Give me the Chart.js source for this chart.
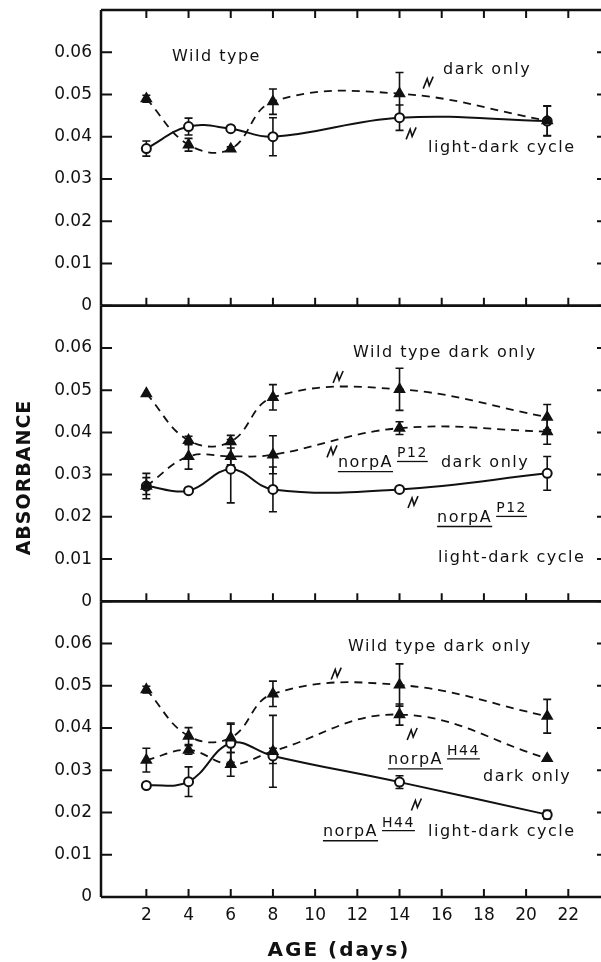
<!DOCTYPE html>
<html>
<head>
<meta charset="UTF-8">
<title>Absorbance vs age</title>
<script src="https://cdn.jsdelivr.net/npm/chart.js@4.4.0/dist/chart.umd.min.js"></script>
<style>
  body { margin: 0; background: #fff; }
</style>
</head>
<body>
<canvas id="absChart" width="601" height="962"></canvas>
<script>
// ages at which absorbance was measured
const days = [2, 4, 6, 8, 14, 21];
const xTicks = [2, 4, 6, 8, 10, 12, 14, 16, 18, 20, 22];
const yTicks = [0, 0.01, 0.02, 0.03, 0.04, 0.05, 0.06];
const yTickLabels = ['0', '0.01', '0.02', '0.03', '0.04', '0.05', '0.06'];

// top panel: wild type
const wtDark1 = [0.0490, 0.0381, 0.0371, 0.0483, 0.0502, 0.0438];
const wtDark1Err = [0.0008, 0.0015, 0.0005, 0.0030, 0.0050, 0.0035];
const wtLight1 = [0.0372, 0.0424, 0.0419, 0.0400, 0.0445, 0.0437];
const wtLight1Err = [0.0018, 0.0020, 0.0005, 0.0045, 0.0030, 0.0035];

// middle panel: norpA P12
const wtDark2 = [0.0492, 0.0381, 0.0378, 0.0483, 0.0502, 0.0436];
const wtDark2Err = [0, 0.0010, 0.0005, 0.0030, 0.0050, 0.0030];
const p12Dark = [0.0273, 0.0343, 0.0343, 0.0347, 0.0410, 0.0402];
const p12DarkErr = [0.0020, 0.0030, 0.0020, 0.0045, 0.0015, 0.0030];
const p12Light = [0.0273, 0.0262, 0.0313, 0.0265, 0.0265, 0.0303];
const p12LightErr = [0.0030, 0, 0.0080, 0.0053, 0, 0.0040];

// bottom panel: norpA H44
const wtDark3 = [0.0491, 0.0381, 0.0377, 0.0481, 0.0502, 0.0428];
const wtDark3Err = [0.0008, 0.0020, 0.0035, 0.0030, 0.0050, 0.0040];
const h44Dark = [0.0324, 0.0348, 0.0314, 0.0345, 0.0432, 0.0328];
const h44DarkErr = [0.0028, 0.0010, 0.0028, 0.0085, 0.0025, 0];
const h44Light = [0.0264, 0.0273, 0.0364, 0.0334, 0.0272, 0.0195];
const h44LightErr = [0, 0.0035, 0.0045, 0.0018, 0.0015, 0.0010];

const FONT = '"DejaVu Sans", sans-serif';

function pts(vals) {
  return days.map((d, i) => ({ x: d, y: vals[i] }));
}

function darkSet(vals, errs, axis) {
  return {
    data: pts(vals), errors: errs, yAxisID: axis,
    borderColor: '#111', borderWidth: 1.8, borderDash: [8, 6],
    pointStyle: 'triangle', pointRadius: 5.5,
    pointBackgroundColor: '#111', pointBorderColor: '#111',
    tension: 0.4, fill: false
  };
}

function lightSet(vals, errs, axis) {
  return {
    data: pts(vals), errors: errs, yAxisID: axis,
    borderColor: '#111', borderWidth: 2,
    pointStyle: 'circle', pointRadius: 4.5, pointBorderWidth: 2,
    pointBackgroundColor: '#fff', pointBorderColor: '#111',
    tension: 0.4, fill: false
  };
}

// text notes on the panels, placed in data units
const notes = [
  { axis: 'y1', x: 3.22, y: 0.0589, parts: [{ t: 'Wild type' }] },
  { axis: 'y1', x: 16.06, y: 0.0558, parts: [{ t: 'dark only' }] },
  { axis: 'y1', x: 15.35, y: 0.0374, parts: [{ t: 'light-dark cycle' }] },
  { axis: 'y2', x: 11.8, y: 0.0589, parts: [{ t: 'Wild type dark only' }] },
  { axis: 'y2', x: 11.08, y: 0.0328, parts: [{ t: 'norpA', u: true }, { t: 'P12', u: true, sup: true }, { t: '  dark only' }] },
  { axis: 'y2', x: 15.78, y: 0.0198, parts: [{ t: 'norpA', u: true }, { t: 'P12', u: true, sup: true }] },
  { axis: 'y2', x: 15.82, y: 0.0103, parts: [{ t: 'light-dark cycle' }] },
  { axis: 'y3', x: 11.56, y: 0.0592, parts: [{ t: 'Wild type dark only' }] },
  { axis: 'y3', x: 13.45, y: 0.0324, parts: [{ t: 'norpA', u: true }, { t: 'H44', u: true, sup: true }] },
  { axis: 'y3', x: 17.96, y: 0.0284, parts: [{ t: 'dark only' }] },
  { axis: 'y3', x: 10.37, y: 0.0154, parts: [{ t: 'norpA', u: true }, { t: 'H44', u: true, sup: true }, { t: '  light-dark cycle' }] }
];

// little zigzag leaders next to the curves
const squiggles = [
  { axis: 'y1', x: 15.36, y: 0.0528 },
  { axis: 'y1', x: 14.55, y: 0.0408 },
  { axis: 'y2', x: 11.09, y: 0.0531 },
  { axis: 'y2', x: 10.8, y: 0.0355 },
  { axis: 'y2', x: 14.64, y: 0.0235 },
  { axis: 'y3', x: 11.0, y: 0.0529 },
  { axis: 'y3', x: 14.6, y: 0.0386 },
  { axis: 'y3', x: 14.8, y: 0.0219 }
];

const panelAxes = ['y1', 'y2', 'y3'];

const decorations = {
  id: 'decorations',
  beforeDatasetsDraw(chart) {
    const ctx = chart.ctx;
    const xs = chart.scales.x;
    ctx.save();
    ctx.strokeStyle = '#111';
    ctx.lineWidth = 1.6;
    chart.data.datasets.forEach(ds => {
      const ys = chart.scales[ds.yAxisID];
      ds.data.forEach((p, i) => {
        const e = ds.errors[i];
        if (!e) return;
        const px = xs.getPixelForValue(p.x);
        const top = ys.getPixelForValue(p.y + e);
        const bot = ys.getPixelForValue(p.y - e);
        ctx.beginPath();
        ctx.moveTo(px, top); ctx.lineTo(px, bot);
        ctx.moveTo(px - 4, top); ctx.lineTo(px + 4, top);
        ctx.moveTo(px - 4, bot); ctx.lineTo(px + 4, bot);
        ctx.stroke();
      });
    });
    ctx.restore();
  },
  afterDraw(chart) {
    const ctx = chart.ctx;
    const xs = chart.scales.x;
    const area = chart.chartArea;
    ctx.save();
    ctx.strokeStyle = '#111';
    ctx.fillStyle = '#111';

    // frames and inward ticks
    panelAxes.forEach((id, k) => {
      const ys = chart.scales[id];
      ctx.lineWidth = 2.5;
      ctx.beginPath();
      ctx.moveTo(area.left, ys.top); ctx.lineTo(area.right, ys.top);
      ctx.moveTo(area.left, ys.bottom); ctx.lineTo(area.right, ys.bottom);
      ctx.moveTo(area.left, ys.top); ctx.lineTo(area.left, ys.bottom);
      ctx.stroke();
      ctx.lineWidth = 2;
      ctx.beginPath();
      yTicks.forEach(v => {
        const py = ys.getPixelForValue(v);
        ctx.moveTo(area.left, py); ctx.lineTo(area.left + 11, py);
        ctx.moveTo(area.right - 4, py); ctx.lineTo(area.right, py);
      });
      xTicks.forEach(v => {
        const px = xs.getPixelForValue(v);
        ctx.moveTo(px, ys.bottom); ctx.lineTo(px, ys.bottom - 8);
        if (k === 0) { ctx.moveTo(px, ys.top); ctx.lineTo(px, ys.top + 8); }
      });
      ctx.stroke();
    });

    // leaders
    ctx.lineWidth = 1.6;
    squiggles.forEach(s => {
      const px = xs.getPixelForValue(s.x);
      const py = chart.scales[s.axis].getPixelForValue(s.y);
      ctx.beginPath();
      ctx.moveTo(px - 5, py + 6);
      ctx.lineTo(px - 1, py - 4);
      ctx.lineTo(px + 1, py + 3);
      ctx.lineTo(px + 5, py - 6);
      ctx.stroke();
    });

    // notes
    ctx.textBaseline = 'middle';
    ctx.textAlign = 'left';
    ctx.letterSpacing = '1.5px';
    notes.forEach(n => {
      let px = xs.getPixelForValue(n.x);
      const py = chart.scales[n.axis].getPixelForValue(n.y);
      n.parts.forEach(part => {
        const size = part.sup ? 14 : 16;
        const dy = part.sup ? -9 : 0;
        ctx.font = size + 'px ' + FONT;
        if (part.sup) px += 4;
        ctx.fillText(part.t, px, py + dy);
        const w = ctx.measureText(part.t).width;
        if (part.u) {
          ctx.lineWidth = 1.3;
          ctx.beginPath();
          ctx.moveTo(px, py + dy + size * 0.55);
          ctx.lineTo(px + w, py + dy + size * 0.55);
          ctx.stroke();
        }
        px += w;
      });
    });

    // axis titles
    ctx.font = 'bold 19px ' + FONT;
    ctx.letterSpacing = '1px';
    ctx.textAlign = 'center';
    const y2 = chart.scales.y2;
    ctx.save();
    ctx.translate(25, (y2.top + y2.bottom) / 2 + 24);
    ctx.rotate(-Math.PI / 2);
    ctx.fillText('ABSORBANCE', 0, 0);
    ctx.restore();
    ctx.font = 'bold 20px ' + FONT;
    ctx.letterSpacing = '2px';
    ctx.fillText('AGE (days)', xs.getPixelForValue(11.13), chart.height - 11);
    ctx.restore();
  }
};

function yScale() {
  return {
    type: 'linear', position: 'left', stack: 'panels', stackWeight: 1,
    min: 0, max: 0.07,
    grid: { display: false, drawTicks: false },
    border: { display: false },
    afterFit: s => { s.width = 101; s.paddingTop = 0; s.paddingBottom = 0; },
    afterBuildTicks: s => { s.ticks = yTicks.map(v => ({ value: v })); },
    ticks: {
      padding: 9, color: '#111',
      font: { family: FONT, size: 17 },
      callback: (v, i) => yTickLabels[i]
    }
  };
}

// stacked left axes are laid out last-first, so the bottom panel is listed first
new Chart(document.getElementById('absChart'), {
  type: 'line',
  data: {
    datasets: [
      darkSet(wtDark1, wtDark1Err, 'y1'),
      lightSet(wtLight1, wtLight1Err, 'y1'),
      darkSet(wtDark2, wtDark2Err, 'y2'),
      darkSet(p12Dark, p12DarkErr, 'y2'),
      lightSet(p12Light, p12LightErr, 'y2'),
      darkSet(wtDark3, wtDark3Err, 'y3'),
      darkSet(h44Dark, h44DarkErr, 'y3'),
      lightSet(h44Light, h44LightErr, 'y3')
    ]
  },
  options: {
    responsive: false,
    animation: false,
    layout: { autoPadding: false, padding: { top: 10, right: 0, left: 0, bottom: 0 } },
    plugins: { legend: { display: false }, tooltip: { enabled: false } },
    scales: {
      x: {
        type: 'linear', min: -0.15, max: 23.55,
        grid: { display: false, drawTicks: false },
        border: { display: false },
        afterFit: s => { s.height = 65; s.paddingLeft = 0; s.paddingRight = 0; },
        afterBuildTicks: s => { s.ticks = xTicks.map(v => ({ value: v })); },
        ticks: { padding: 8, color: '#111', maxRotation: 0, font: { family: FONT, size: 17 } }
      },
      y3: yScale(),
      y2: yScale(),
      y1: yScale()
    }
  },
  plugins: [decorations]
});
</script>
</body>
</html>
